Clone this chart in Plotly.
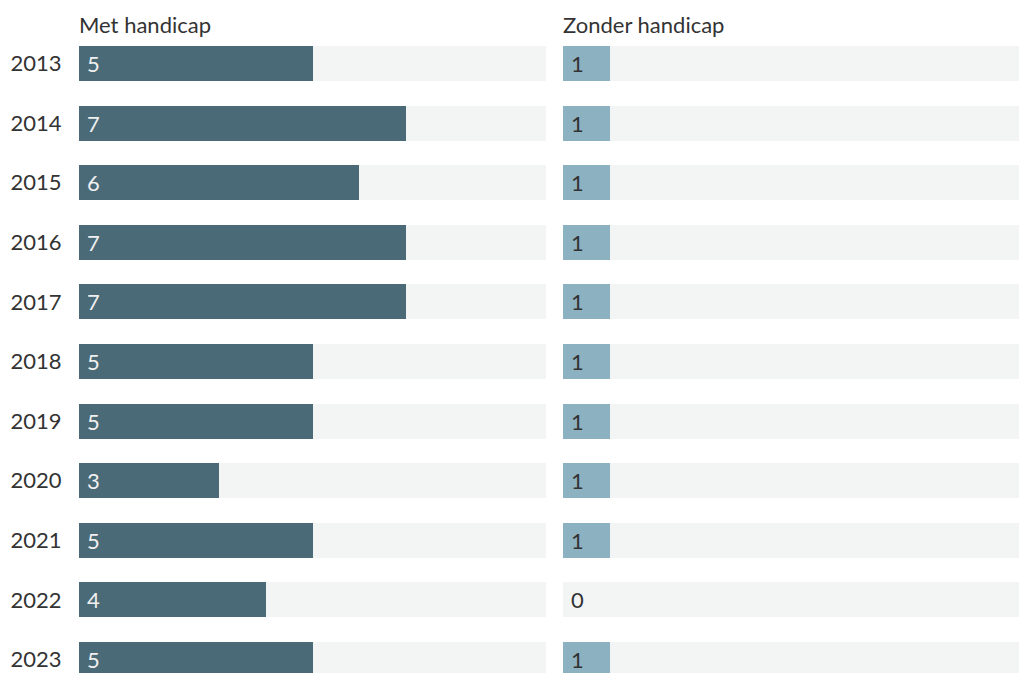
import plotly.graph_objects as go

# Jaren en aantallen per groep
years = ["2013", "2014", "2015", "2016", "2017", "2018", "2019", "2020", "2021", "2022", "2023"]
met_handicap = [5, 7, 6, 7, 7, 5, 5, 3, 5, 4, 5]
zonder_handicap = [1, 1, 1, 1, 1, 1, 1, 1, 1, 0, 1]
panel_titles = ["Met handicap", "Zonder handicap"]
scale_max = 10

W, H = 1019, 673
DARK = "#4a6a77"
LIGHT = "#8cb2c2"
TRACK = "#f3f4f4"
TEXT = "#333333"
FONT = "Lato"
FS = 22

idx = list(range(len(years)))
row_px = 59.6
top_val = -63.5 / row_px
bottom_val = top_val + H / row_px
bar_w = 35 / row_px

fig = go.Figure()

panels = [
    (met_handicap, DARK, "#f0f0f0", "x", "y", (79, 546)),
    (zonder_handicap, LIGHT, TEXT, "x2", "y2", (563, 1019)),
]

px_per_unit = 46.7
for k, (vals, col, lblcol, xa, ya, (x0, x1)) in enumerate(panels):
    # grijze achtergrondbalk over de volle schaal
    fig.add_trace(go.Bar(
        x=[scale_max] * len(years), y=idx, orientation="h", width=bar_w,
        marker=dict(color=TRACK, line=dict(width=0)), xaxis=xa, yaxis=ya,
        hoverinfo="skip", showlegend=False,
    ))
    fig.add_trace(go.Bar(
        x=vals, y=idx, orientation="h", width=bar_w,
        marker=dict(color=col, line=dict(width=0)), xaxis=xa, yaxis=ya,
        showlegend=False,
    ))
    for i, v in zip(idx, vals):
        fig.add_annotation(
            x=0, y=i, xref=xa, yref=ya, text=str(v), showarrow=False,
            xanchor="left", yanchor="middle", xshift=6,
            font=dict(family=FONT, size=FS, color=lblcol if v > 0 else TEXT),
        )
    fig.add_annotation(
        x=x0 / W, y=1 - 25 / H, xref="paper", yref="paper", text=panel_titles[k],
        showarrow=False, xanchor="left", yanchor="middle", xshift=-2,
        font=dict(family=FONT, size=FS, color=TEXT),
    )

left_dom = [79 / W, 546 / W]
right_dom = [563 / W, 1.0]
right_max = (W - 563) / px_per_unit

fig.update_layout(
    width=W, height=H, margin=dict(l=0, r=0, t=0, b=0),
    paper_bgcolor="white", plot_bgcolor="white", barmode="overlay", bargap=0,
    font=dict(family=FONT, size=FS, color=TEXT),
    xaxis=dict(domain=left_dom, range=[0, (546 - 79) / px_per_unit], visible=False, fixedrange=True),
    xaxis2=dict(domain=right_dom, range=[0, right_max], visible=False, fixedrange=True),
    yaxis=dict(
        domain=[0, 1], range=[bottom_val, top_val], tickmode="array", tickvals=idx,
        ticktext=years, showgrid=False, zeroline=False, showline=False,
        ticks="outside", ticklen=12, tickcolor="rgba(0,0,0,0)",
        tickfont=dict(family=FONT, size=FS, color=TEXT), anchor="x",
    ),
    yaxis2=dict(
        domain=[0, 1], range=[bottom_val, top_val], showticklabels=False,
        showgrid=False, zeroline=False, showline=False, anchor="x2",
    ),
)

fig.write_html("out.html")
